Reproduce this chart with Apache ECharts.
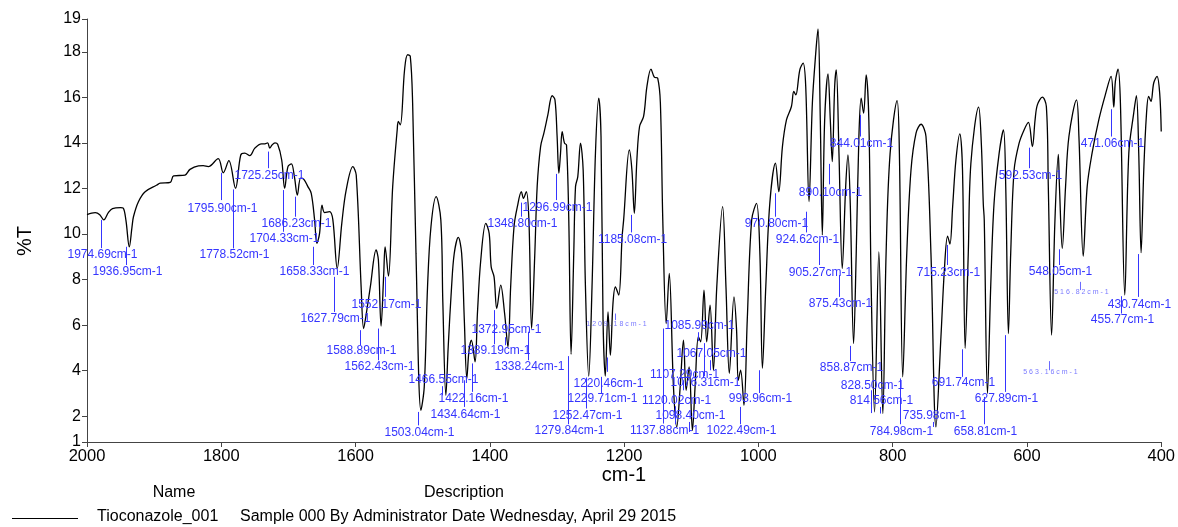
<!DOCTYPE html>
<html>
<head>
<meta charset="utf-8">
<script src="https://cdn.jsdelivr.net/npm/echarts@6/dist/echarts.min.js"></script>
<style>
html,body{margin:0;padding:0;background:#fff;}
#chart{width:1178px;height:527px;}
</style>
</head>
<body>
<div id="chart"></div>
<script>
// ---- data ----
const wavenumber = [
2000,1993,1987.7,1981,1975,1968,1962,1950,1946,1942,1937,1933,1930.8,1923.4,1913.4,1896,1891,1876,1871,1854,
1846.6,1834,1826.9,1819.4,1804.6,1797,1788.7,1778.8,1771,1765,1757.5,1750,1740,1735,1731,1727.8,1724.4,1720,1716,1710,
1705.6,1700.7,1695.6,1691,1686.7,1681.8,1677,1671,1666,1661,1657.6,1653.6,1650,1646,1638.7,1633.8,1627.3,1620.5,1614,1604,
1599,1591.7,1588,1584,1578,1569.4,1566,1562,1558,1556,1551,1544.7,1538,1536.3,1533.3,1527,1522.5,1518.5,1515,1510,
1502.6,1497.7,1492.8,1487.7,1480,1473,1470,1465.5,1462,1457,1453,1447,1442,1438,1434.3,1431,1427.5,1422,1418.5,1413.5,
1406,1401,1398,1393.7,1389.7,1383.8,1378,1373,1369,1364,1359,1353,1350,1345.7,1341.8,1337.8,1333,1329.5,1324.4,1319.5,
1313.6,1307.2,1303,1299.8,1297.2,1294.7,1292.3,1288.8,1285.8,1282.4,1279,1275,1272.4,1269,1265,1261,1257.6,1252.7,1247.8,1242.7,
1237.8,1234.4,1231.4,1228,1224,1220.5,1216.6,1213,1208,1203,1200.7,1192.3,1188.4,1184.8,1181,1177,1171,1166,1160,1155,
1150,1146,1142.4,1137.3,1132.8,1126.5,1121.6,1116.5,1111.6,1107.6,1103.2,1098.3,1094.3,1089.4,1086,1081,1077,1072,1067,1062,
1053.3,1048.3,1043.3,1036.4,1032.5,1030,1026.5,1021.5,1016.6,1010,1002.8,997.8,994,989,983,974.6,969.6,964.2,958.2,950.8,
947.3,944.3,938.3,933.4,929.5,924.6,919.6,914.6,911.2,907.8,904.8,901.3,896.3,892.9,890,886.4,884,880,875.1,870,
866.6,863.2,858.2,854.3,850.3,846.9,843.3,839.5,835.5,832,827,820.6,814.7,809.8,803.8,793.4,790,785,779,772.7,
765.2,757.8,750.4,743,735.5,728.1,723,718.2,714.7,710.7,705.8,700,696,692,687.4,683.5,672,668,665,663.6,
658.8,654,649,641.4,635,631.6,627.6,624.2,619.1,611.7,604.3,597.8,591.9,587.9,584.5,577,571.1,568.2,563.3,558.3,
553.3,551.6,547.4,542.5,537.5,526.2,522.6,516.2,510.3,503,493,483.3,474.7,470.7,468.3,464.3,460.8,454.3,448.3,441,
437,433.5,430,426,422.2,418.7,415.3,411.2,406.3,402.3,400
];
const transmittance = [
10.85,10.92,10.94,10.85,10.62,10.95,11.12,11.16,11.14,10.6,9.44,10.3,10.76,11.42,11.86,12.15,12.23,12.27,12.55,12.59,
12.84,12.99,13.0,12.96,13.31,12.69,13.22,12.01,13.47,13.55,13.44,13.77,13.96,13.96,14.0,13.77,13.91,14.0,13.94,13.25,
12.01,12.96,13.08,12.5,11.71,12.45,12.4,12.08,11.79,10.62,9.59,10.03,11.27,10.94,10.98,10.62,8.49,10.47,11.93,12.96,
12.59,7.68,5.85,6.51,7.68,9.30,8.86,5.96,8.27,9.44,8.15,12.08,14.57,14.94,14.79,17.21,17.87,17.8,15.75,9.15,
2.26,3.29,7.68,10.32,11.64,10.62,7.0,2.92,5.05,7.68,9.15,9.85,9.15,6.22,3.66,4.90,5.34,4.39,6.51,8.86,
10.47,10.03,8.56,8.12,6.73,7.76,6.51,5.05,7.68,10.32,11.20,11.86,11.57,11.86,10.62,5.85,9.15,12.08,13.84,14.43,
15.23,16.07,15.89,14.28,12.67,13.55,14.50,13.99,13.91,10.62,4.72,9.15,12.08,12.52,13.99,12.81,7.68,3.76,7.68,13.55,
15.97,14.28,6.22,3.76,6.58,4.68,6.95,7.68,7.32,9.88,10.62,13.69,12.81,10.91,13.25,14.72,15.16,16.48,17.24,16.89,
16.84,15.75,10.62,6.07,8.27,3.29,1.53,3.29,5.34,3.14,4.17,1.38,3.29,5.49,5.27,7.54,5.27,6.88,4.02,7.68,
11.20,7.68,3.88,7.24,5.78,3.58,4.02,2.48,6.22,10.62,11.35,9.15,4.10,7.68,11.35,13.11,11.86,13.84,15.01,15.60,
16.26,16.11,17.21,17.50,16.48,11.42,15.75,17.94,19.0,15.01,9.96,15.01,17.03,15.01,13.18,16.48,17.21,13.55,8.49,12.08,
13.47,11.35,5.19,9.15,14.28,15.97,15.31,16.99,15.01,7.68,2.19,9.22,2.12,9.15,13.55,15.86,13.55,3.73,9.15,12.81,
14.43,14.82,14.28,9.15,1.53,5.49,8.42,9.91,9.56,11.20,13.25,14.40,12.81,4.98,9.15,13.11,15.57,14.0,11.3,10.62,
3.0,7.68,11.35,13.55,14.57,12.08,5.63,9.15,12.81,13.99,14.57,14.90,13.84,15.01,15.67,16.01,15.60,12.08,5.56,10.62,
13.50,12.08,9.37,12.08,14.28,15.89,14.28,9.03,12.08,13.55,15.01,16.11,16.92,15.57,16.7,17.24,15.75,7.32,13.55,15.31,
16.07,13.55,9.18,12.81,15.16,16.04,15.82,16.63,16.92,16.18,14.50
];

// peak annotations: label, wavenumber, leader line from/to (%T), label centre (%T), faint small label
const peakLabels = [
'1974.69cm-1','1936.95cm-1','1795.90cm-1','1778.52cm-1','1725.25cm-1','1704.33cm-1','1686.23cm-1','1658.33cm-1',
'1627.79cm-1','1588.89cm-1','1562.43cm-1','1552.17cm-1','1503.04cm-1','1466.55cm-1','1434.64cm-1','1422.16cm-1',
'1389.19cm-1','1372.95cm-1','1348.80cm-1','1338.24cm-1','1296.99cm-1','1279.84cm-1','1252.47cm-1','1229.71cm-1',
'1220.46cm-1','1209.18cm-1','1185.08cm-1','1137.88cm-1','1120.02cm-1','1107.29cm-1','1098.40cm-1','1085.99cm-1',
'1076.31cm-1','1067.05cm-1','1022.49cm-1','993.96cm-1','970.80cm-1','924.62cm-1','905.27cm-1','890.10cm-1',
'875.43cm-1','858.87cm-1','844.01cm-1','828.50cm-1','814.56cm-1','784.98cm-1','735.98cm-1','715.23cm-1',
'691.74cm-1','658.81cm-1','627.89cm-1','592.53cm-1','563.16cm-1','548.05cm-1','516.82cm-1','471.06cm-1',
'455.77cm-1','430.74cm-1'
];
const peakWavenumbers = [
1974.69,1936.95,1795.90,1778.52,1725.25,1704.33,1686.23,1658.33,
1627.79,1588.89,1562.43,1552.17,1503.04,1466.55,1434.64,1422.16,
1389.19,1372.95,1348.80,1338.24,1296.99,1279.84,1252.47,1229.71,
1220.46,1209.18,1185.08,1137.88,1120.02,1107.29,1098.40,1085.99,
1076.31,1067.05,1022.49,993.96,970.80,924.62,905.27,890.10,
875.43,858.87,844.01,828.50,814.56,784.98,735.98,715.23,
691.74,658.81,627.89,592.53,563.16,548.05,516.82,471.06,
455.77,430.74
];
const leaderFrom = [
10.62,9.44,12.69,11.96,13.62,11.93,11.64,9.44,
8.12,5.78,5.85,8.12,2.19,2.92,3.58,4.32,
6.66,5.12,11.38,5.71,12.64,4.64,3.70,3.73,
4.58,6.51,10.84,5.85,2.44,3.58,1.75,5.69,
5.21,4.46,2.41,4.02,11.79,10.98,9.64,13.08,
8.20,5.09,15.23,2.14,2.12,3.66,1.53,9.52,
4.94,2.85,5.56,13.79,4.42,9.33,7.90,15.48,
7.27,9.12
];
const leaderTo = [
9.38,8.64,11.49,9.37,12.89,10.10,10.76,8.64,
6.58,5.12,4.46,7.24,1.60,3.32,2.41,3.07,
5.16,5.47,10.76,4.46,11.49,1.65,2.34,3.02,
3.95,6.22,10.07,1.68,1.65,3.14,1.31,5.30,
3.76,4.02,1.65,3.02,10.76,10.07,8.64,12.18,
7.24,4.42,14.28,3.14,2.41,1.65,1.75,8.64,
3.73,1.65,3.07,12.89,4.02,8.64,7.54,14.28,
6.51,7.24
];
const labelLevel = [
9.08,8.33,11.13,9.08,12.56,9.81,10.47,8.34,
6.29,4.86,4.17,6.92,1.28,3.61,2.07,2.78,
4.90,5.78,10.47,4.17,11.16,1.38,2.04,2.75,
3.44,6.04,9.77,1.38,2.70,3.83,2.04,5.96,
3.46,4.76,1.35,2.75,10.47,9.74,8.32,11.83,
6.95,4.14,13.96,3.36,2.70,1.34,2.04,8.32,
3.46,1.34,2.78,12.55,3.92,8.34,7.44,13.96,
6.22,6.92
];
const faintLabel = [25, 52, 54];

const yTicks = [2,4,6,8,10,12,14,16,18];
const yMin = 0.87, yMax = 19.44;

// ---- build ----
const spectrum = wavenumber.map((w, i) => [w, transmittance[i]]);
const annotations = peakWavenumbers.map((w, i) => [w, leaderFrom[i], leaderTo[i], labelLevel[i]]);

const FONT = '"Liberation Sans", Arial, Helvetica, sans-serif';
const BLUE = '#3535ff';

const chart = echarts.init(document.getElementById('chart'), null, {renderer: 'canvas'});
chart.setOption({
  animation: false,
  backgroundColor: '#ffffff',
  grid: {left: 87, right: 14, top: 19, bottom: 85, containLabel: false},
  xAxis: {
    type: 'value', inverse: true, min: 400, max: 2000, interval: 200,
    axisLine: {show: true, onZero: false, lineStyle: {color: '#444', width: 1}},
    axisTick: {show: true, length: 5, lineStyle: {color: '#444'}},
    axisLabel: {fontSize: 16.5, color: '#000', fontFamily: FONT, margin: 6, formatter: v => String(v)},
    splitLine: {show: false}
  },
  yAxis: {
    type: 'value', min: yMin, max: yMax,
    axisLine: {show: true, onZero: false, lineStyle: {color: '#444', width: 1}},
    axisTick: {show: true, length: 5, lineStyle: {color: '#444'}, customValues: [yMin].concat(yTicks, [yMax])},
    axisLabel: {
      fontSize: 16, color: '#000', fontFamily: FONT, margin: 6,
      customValues: [yMin].concat(yTicks, [yMax]),
      formatter: v => String(Math.round(v))
    },
    splitLine: {show: false}
  },
  series: [
    {
      type: 'line', data: spectrum, showSymbol: false, smooth: 0.35,
      lineStyle: {color: '#000', width: 1.3}, z: 3, silent: true
    },
    {
      type: 'custom', data: annotations, clip: false, z: 4, silent: true,
      encode: {x: 0, y: [1, 2]},
      renderItem: (params, api) => {
        const i = params.dataIndex;
        const p1 = api.coord([api.value(0), api.value(1)]);
        const p2 = api.coord([api.value(0), api.value(2)]);
        const pt = api.coord([api.value(0), api.value(3)]);
        const x = Math.round(p1[0] - 3) + 0.5;
        const faint = faintLabel.indexOf(i) >= 0;
        const txt = faint ? peakLabels[i].split('').join(' ') : peakLabels[i];
        return {
          type: 'group',
          children: [
            {type: 'line', shape: {x1: x, y1: p1[1], x2: x, y2: p2[1]},
             style: {stroke: faint ? '#6a6aff' : BLUE, lineWidth: 1}},
            {type: 'text', x: x + 1, y: pt[1],
             style: {text: txt, fill: faint ? '#7a7aff' : BLUE,
                     font: (faint ? '7px ' : '12px ') + FONT,
                     align: 'center', verticalAlign: 'middle',
                     textAlign: 'center', textVerticalAlign: 'middle'}}
          ]
        };
      }
    }
  ],
  graphic: [
    {type: 'text', x: 25, y: 241, rotation: Math.PI / 2,
     style: {text: '%T', font: '20px ' + FONT, fill: '#000', align: 'center', verticalAlign: 'middle'}},
    {type: 'text', x: 624, y: 475,
     style: {text: 'cm-1', font: '20px ' + FONT, fill: '#000', align: 'center', verticalAlign: 'middle'}},
    {type: 'text', x: 174, y: 493,
     style: {text: 'Name', font: '16px ' + FONT, fill: '#000', align: 'center', verticalAlign: 'middle'}},
    {type: 'text', x: 464, y: 493,
     style: {text: 'Description', font: '16px ' + FONT, fill: '#000', align: 'center', verticalAlign: 'middle'}},
    {type: 'line', shape: {x1: 12, y1: 518.5, x2: 78, y2: 518.5}, style: {stroke: '#000', lineWidth: 1}},
    {type: 'text', x: 97, y: 517,
     style: {text: 'Tioconazole_001', font: '16px ' + FONT, fill: '#000', align: 'left', verticalAlign: 'middle'}},
    {type: 'text', x: 240, y: 517,
     style: {text: 'Sample 000 By Administrator Date Wednesday, April 29 2015', font: '16px ' + FONT, fill: '#000', align: 'left', verticalAlign: 'middle'}}
  ]
});
</script>
</body>
</html>
